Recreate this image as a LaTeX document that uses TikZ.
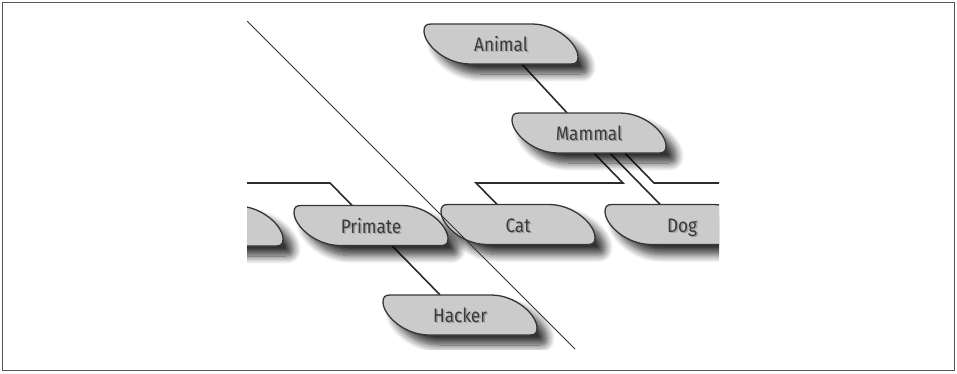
\documentclass[tikz,border=0pt]{standalone}
\usepackage{fontspec}
\newfontfamily\leaffont{Fira Sans}[FakeStretch=0.88]
\usetikzlibrary{calc,shadows.blur}
\definecolor{leaffill}{HTML}{CBCBCB}
\definecolor{leafline}{HTML}{363636}
\definecolor{connc}{HTML}{2B2B2B}
\definecolor{textc}{HTML}{3A3A3A}
\definecolor{tshadow}{HTML}{A0A0A0}
\definecolor{framec}{HTML}{555555}
\tikzset{
  leafbox/.style={minimum width=154pt, minimum height=40pt, inner sep=0pt},
  leafbody/.style={fill=leaffill, draw=leafline, line width=1.3pt, line join=round,
    blur shadow={shadow xshift=10pt, shadow yshift=-10pt, shadow blur radius=8pt, shadow opacity=80, shadow blur steps=10}},
  leaftext/.style={font=\leaffont\fontsize{19.5}{22}\selectfont, inner sep=0pt},
  conn/.style={draw=connc, line width=1.6pt, line join=miter},
  diagline/.style={draw=black!80, line width=0.9pt},
  framebox/.style={draw=framec, line width=1pt}
}
\newcommand\leafpath{(-70,-20) -- (31,-20) .. controls (56,-20) and (77,0) .. (77,13) .. controls (77,18) and (75,20) .. (70,20) -- (-31,20) .. controls (-56,20) and (-77,0) .. (-77,-13) .. controls (-77,-18) and (-75,-20) .. (-70,-20) -- cycle}
\newcommand\leafnode[4]{%
  \begin{scope}[shift={(#2,#3)}]
    \path[leafbody] \leafpath;
  \end{scope}
  \node[leafbox] (#1) at (#2,#3) {};
  \node[leaftext, text=tshadow, anchor=base] at ($(#1.center)+(1.5,8.8)$) {#4};
  \node[leaftext, text=textc, anchor=base] at ($(#1.center)+(0,7.5)$) {#4};
}
\begin{document}
\begin{tikzpicture}[x=1pt,y=-1pt]
\useasboundingbox (0,0) rectangle (957,373);
\draw[framebox] (2.5,2.5) rectangle (954.5,370.5);
\begin{scope}
  \clip (247,21) rectangle (719,349);
  \node[leafbox] (animal) at (501,44) {};
  \node[leafbox] (mammal) at (589,133) {};
  \node[leafbox] (cat) at (518,224.5) {};
  \node[leafbox] (dog) at (682,224.5) {};
  \node[leafbox] (primate) at (371,225.5) {};
  \node[leafbox] (leftnode) at (206,226) {};
  \node[leafbox] (hacker) at (460,315) {};
  \coordinate (mc1) at (623,183);
  \coordinate (mc2) at (476,183);
  \coordinate (mr1) at (654,183);
  \coordinate (mr2) at (760,183);
  \coordinate (pl1) at (200,183);
  \coordinate (pl2) at (330,183);
  % connectors
  \draw[conn] ($(animal.south)+(21,0)$) -- ($(mammal.north)+(-22,0)$);
  \draw[conn] ($(mammal.south)+(5,0)$) -- (mc1) -- (mc2) -- ($(cat.north)+(-21,0)$);
  \draw[conn] ($(mammal.south)+(21,0)$) -- ($(dog.north)+(-22,0)$);
  \draw[conn] ($(mammal.south)+(36,0)$) -- (mr1) -- (mr2);
  \draw[conn] (pl1) -- (pl2) -- ($(primate.north)+(-19,0)$);
  \draw[conn] ($(primate.south)+(21,0)$) -- ($(hacker.north)+(-20,0)$);
  % shapes
  \leafnode{animal}{501}{44}{Animal}
  \leafnode{mammal}{589}{133}{Mammal}
  \leafnode{leftnode}{206}{226}{}
  \leafnode{primate}{371}{225.5}{Primate}
  \leafnode{cat}{518}{224.5}{Cat}
  \leafnode{dog}{682}{224.5}{Dog}
  \leafnode{hacker}{460}{315}{Hacker}
  \coordinate (d1) at (247,21);
  \coordinate (d2) at (575,349);
  \draw[diagline] (d1) -- (d2);
\end{scope}
\end{tikzpicture}
\end{document}
